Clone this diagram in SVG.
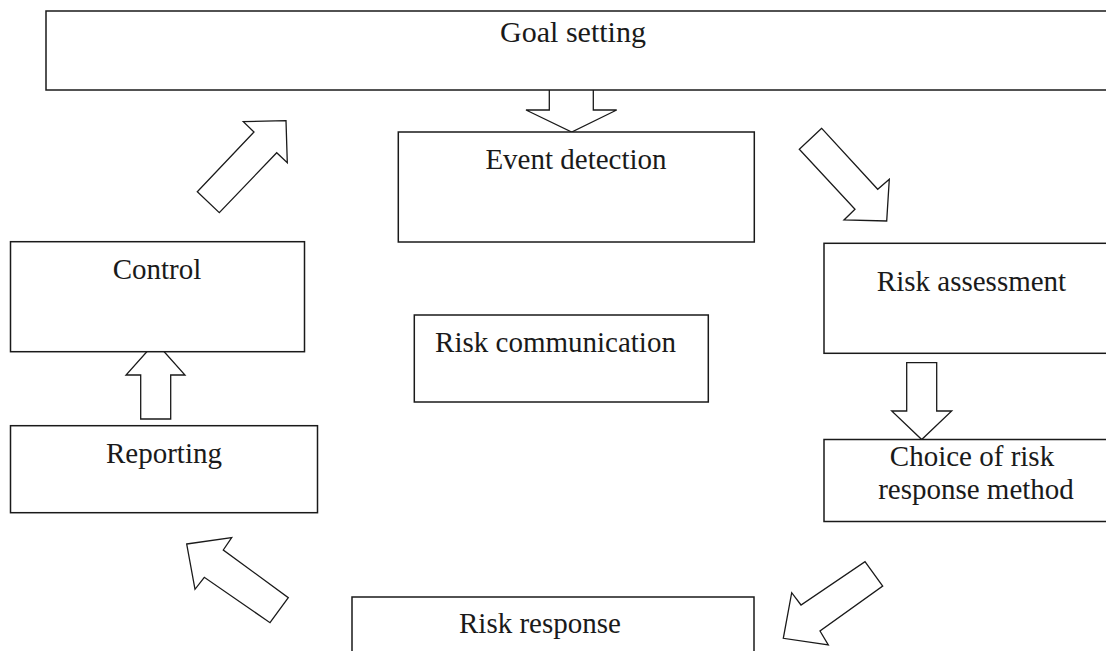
<svg xmlns="http://www.w3.org/2000/svg" width="1106" height="651" viewBox="0 0 1106 651">
<style>
.box{fill:#fff;stroke:#1a1a1a;stroke-width:1.5}
.arr{fill:#fff;stroke:#1a1a1a;stroke-width:1.3;stroke-linejoin:miter}
.t{font-family:"Liberation Serif","Times New Roman",serif;font-size:29px;fill:#1a1a1a;text-anchor:middle}
</style>
<rect width="1106" height="651" fill="#fff"/>
<g id="connectors">
<polygon class="arr" points="549.3,85 593.3,85 593.3,110 616.7,110 571.7,132 526,110 549.3,110"/>
<polygon class="arr" points="286,120.7 243.3,121.7 254,132 197.3,191.7 219.3,212.7 276.7,152.7 287.3,162.7"/>
<polygon class="arr" points="821.7,128.3 799.3,149.3 855,209.3 844,220 886.7,221 889.3,179.3 877.7,189.3"/>
<polygon class="arr" points="906.7,362.7 936.7,362.7 936.7,411 951.7,411 921.7,439.5 891.7,411 906.7,411"/>
<polygon class="arr" points="865,561.7 882.7,586 820,631 828.3,645 783.3,638.3 791.7,592.7 801,605"/>
<polygon class="arr" points="186.7,544 231.7,537.7 223.3,550 288.3,597.7 270,622.7 204.3,577.3 195,589.3"/>
<polygon class="arr" points="140.7,419 170.7,419 170.7,375 185,375 155.5,342 126,375 140.7,375"/>
</g>
<g id="goal-setting"><rect class="box" x="46" y="11" width="1080" height="79"/><text class="t" x="573" y="42" style="font-size:30px">Goal setting</text></g>
<g id="event-detection"><rect class="box" x="398.3" y="132" width="356" height="110"/><text class="t" x="576" y="169">Event detection</text></g>
<g id="control"><rect class="box" x="10.5" y="241.7" width="294" height="110"/><text class="t" x="157" y="279">Control</text></g>
<g id="risk-communication"><rect class="box" x="414.3" y="315" width="294" height="87"/><text class="t" x="555.5" y="351.7">Risk communication</text></g>
<g id="risk-assessment"><rect class="box" x="824" y="243.3" width="300" height="110"/><text class="t" x="971.5" y="290.7">Risk assessment</text></g>
<g id="reporting"><rect class="box" x="10.5" y="425.7" width="307" height="87"/><text class="t" x="164" y="463.3">Reporting</text></g>
<g id="choice"><rect class="box" x="824" y="439.5" width="300" height="82"/><text class="t" x="972" y="466">Choice of risk</text><text class="t" x="976" y="499.3">response method</text></g>
<g id="risk-response"><rect class="box" x="352" y="597" width="402" height="70"/><text class="t" x="540" y="633">Risk response</text></g>
</svg>
